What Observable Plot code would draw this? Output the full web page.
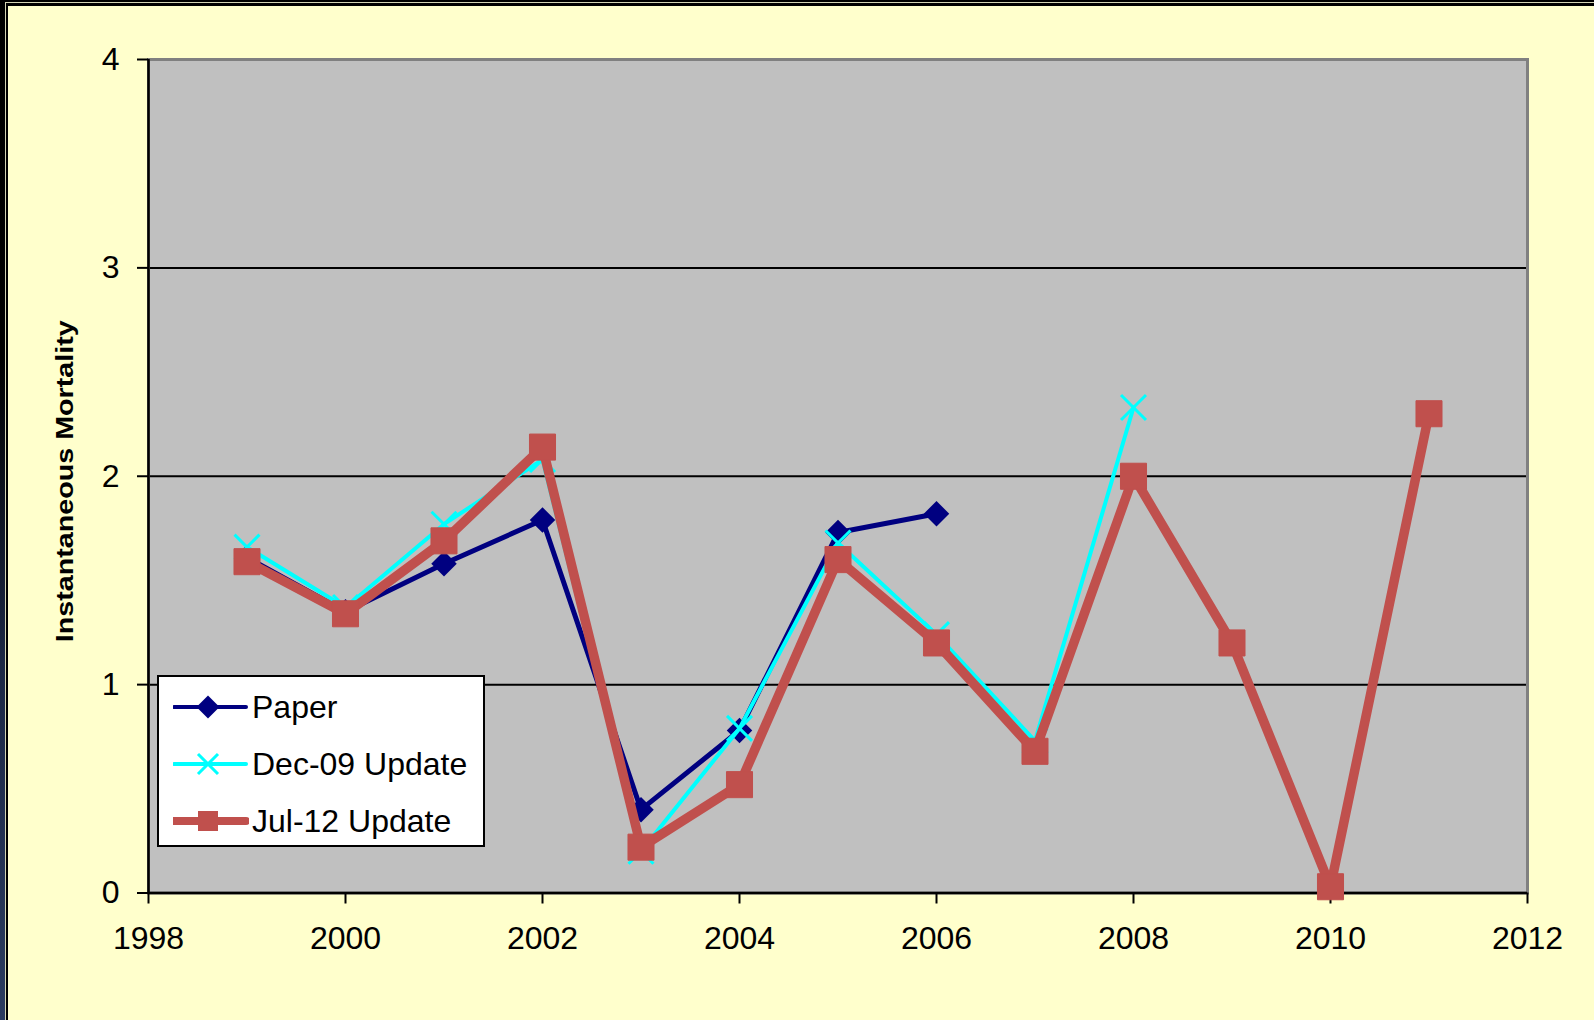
<!DOCTYPE html>
<html><head><meta charset="utf-8">
<script src="https://cdn.jsdelivr.net/npm/d3@7"></script>
<script src="https://cdn.jsdelivr.net/npm/@observablehq/plot@0.6"></script>
<style>
html,body{margin:0;padding:0;width:1594px;height:1020px;overflow:hidden;background:#FFFFCC;font-family:"Liberation Sans",Arial,sans-serif;}
#chart{position:absolute;left:0;top:0;}
.f{position:absolute;}
#legend{position:absolute;left:157px;top:675px;width:324px;height:168px;background:#fff;border:2px solid #000;}
.row{position:absolute;left:0;height:40px;}
.row svg{position:absolute;left:14px;top:0;}
.row span{position:absolute;left:93px;top:0px;line-height:40px;font-size:32px;color:#000;white-space:nowrap;}
</style></head><body>
<div class="f" style="left:0;top:0;right:0;height:6px;background:#000"></div>
<div class="f" style="left:0;top:0;width:8px;bottom:0;background:#000"></div>
<div class="f" style="left:0;top:0;width:5px;bottom:0;background:linear-gradient(to bottom,#000 0%,#000 35%,#1c2846 65%,#2b3b60 100%)"></div>
<div class="f" style="left:5px;top:2px;right:0;height:1px;background:#d4d4b4"></div>
<div class="f" style="left:5px;top:2px;width:1px;bottom:0;background:#d4d4b4"></div>
<div id="chart"></div>
<div id="legend"></div>
<script>
// ---- data ----
const years = [1999, 2000, 2001, 2002, 2003, 2004, 2005, 2006, 2007, 2008, 2009, 2010, 2011];
const paper = [1.61, 1.35, 1.58, 1.79, 0.40, 0.78, 1.73, 1.82];
const dec09 = [1.66, 1.37, 1.77, 2.08, 0.20, 0.79, 1.68, 1.24, 0.73, 2.33];
const jul12 = [1.59, 1.34, 1.69, 2.14, 0.22, 0.52, 1.60, 1.20, 0.68, 2.00, 1.20, 0.03, 2.30];
const seriesNames = ["Paper", "Dec-09 Update", "Jul-12 Update"];
const seriesColors = ["#000080", "#00FFFF", "#C0504D"];
const xTicks = [1998, 2000, 2002, 2004, 2006, 2008, 2010, 2012];
const yTicks = [0, 1, 2, 3, 4];
const yTitle = "Instantaneous Mortality";

const rows = (vals, name) => vals.map((v, i) => ({year: years[i], value: v, series: name}));
const dPaper = rows(paper, seriesNames[0]);
const dDec = rows(dec09, seriesNames[1]);
const dJul = rows(jul12, seriesNames[2]);

const chart = Plot.plot({
  width: 1594, height: 1020,
  marginLeft: 148, marginRight: 67, marginTop: 59, marginBottom: 127.5,
  x: {domain: [1998, 2012]},
  y: {domain: [0, 4]},
  style: {background: "transparent", fontFamily: "'Liberation Sans', Arial, sans-serif", color: "#000"},
  marks: [
    Plot.frame({fill: "#C0C0C0"}),
    Plot.ruleY([1, 2, 3], {stroke: "#000", strokeWidth: 2}),
    Plot.frame({stroke: "#808080", strokeWidth: 3}),
    Plot.ruleX([1998], {stroke: "#000", strokeWidth: 2.5}),
    Plot.ruleY([0], {stroke: "#000", strokeWidth: 2.5}),
    Plot.axisY({ticks: yTicks, tickFormat: d => String(d), tickSize: 11, tickPadding: 18, fontSize: 32, strokeWidth: 2, label: null}),
    Plot.axisX({ticks: xTicks, tickFormat: d => String(d), tickSize: 11, tickPadding: 22, fontSize: 32, strokeWidth: 2, label: null}),
    Plot.text([yTitle], {frameAnchor: "left", textAnchor: "middle", dx: -83, dy: 5, rotate: -90, fontSize: 24, fontWeight: "bold"}),
    Plot.line(dPaper, {x: "year", y: "value", stroke: seriesColors[0], strokeWidth: 5}),
    Plot.dot(dPaper, {x: "year", y: "value", symbol: "diamond2", r: 11.5, fill: seriesColors[0]}),
    Plot.line(dDec, {x: "year", y: "value", stroke: seriesColors[1], strokeWidth: 4}),
    Plot.dot(dDec, {x: "year", y: "value", symbol: "times", r: 11.4, stroke: seriesColors[1], strokeWidth: 3}),
    Plot.line(dJul, {x: "year", y: "value", stroke: seriesColors[2], strokeWidth: 9.5}),
    Plot.dot(dJul, {x: "year", y: "value", symbol: "square", r: 14.7, fill: seriesColors[2], stroke: seriesColors[2], strokeWidth: 1})
  ]
});
document.getElementById("chart").appendChild(chart);
d3.select(chart).selectAll("text")
  .filter(function() { return this.textContent === yTitle; })
  .attr("textLength", 322).attr("lengthAdjust", "spacingAndGlyphs");

// ---- legend ----
const legendSymbols = [d3.symbolDiamond2, d3.symbolTimes, d3.symbolSquare];
const legendSizes = [337, 263, 400];
const legendWidths = [4, 4, 8];
const legend = d3.select("#legend");
seriesNames.forEach((name, i) => {
  const row = legend.append("div").attr("class", "row").style("top", (10 + 57 * i) + "px").style("width", "320px");
  const svg = row.append("svg").attr("width", 76).attr("height", 40);
  svg.append("line").attr("x1", 1).attr("x2", 73).attr("y1", 20).attr("y2", 20)
    .attr("stroke", seriesColors[i]).attr("stroke-width", legendWidths[i]).attr("stroke-linecap", "round");
  const p = svg.append("path").attr("transform", "translate(35,20)")
    .attr("d", d3.symbol(legendSymbols[i], legendSizes[i])());
  if (i === 1) p.attr("fill", "none").attr("stroke", seriesColors[i]).attr("stroke-width", 3);
  else p.attr("fill", seriesColors[i]);
  row.append("span").text(name);
});
</script>
</body></html>
